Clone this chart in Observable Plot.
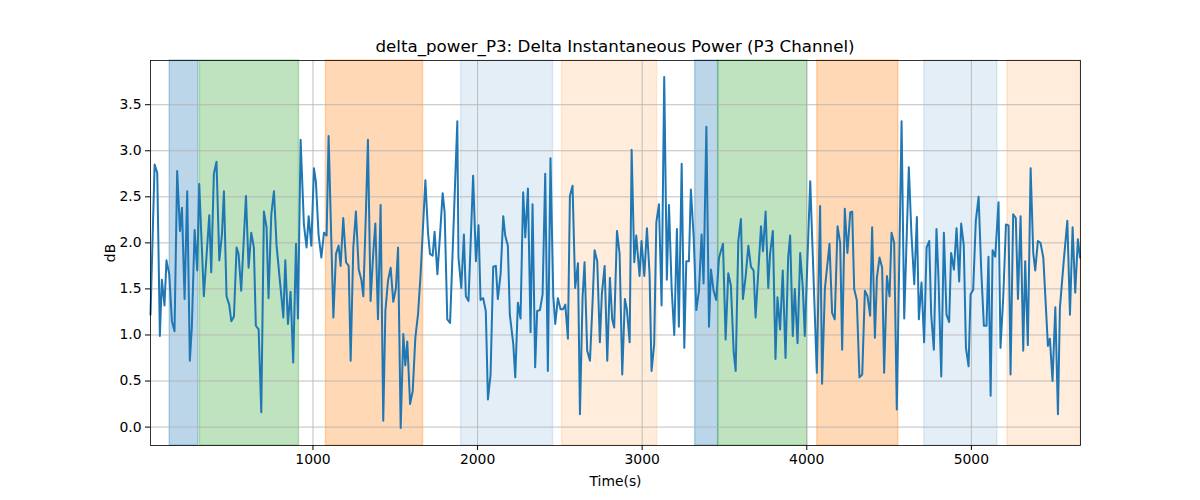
<!DOCTYPE html>
<html><head><meta charset="utf-8">
<script src="https://cdn.jsdelivr.net/npm/d3@7"></script>
<script src="https://cdn.jsdelivr.net/npm/@observablehq/plot@0.6"></script>
<style>body{margin:0;background:#fff;font-family:"DejaVu Sans",sans-serif}#wrap{position:relative;width:1200px;height:500px}
#title{position:absolute;top:36px;left:150px;width:930px;text-align:center;font-size:16.7px;color:#000}</style>
</head><body><div id="wrap"><div id="title">delta_power_P3: Delta Instantaneous Power (P3 Channel)</div></div>
<script>
const times = [13,38,54,70,82,98,110,127,143,159,175,192,204,220,236,252,264,281,297,309,337,370,382,398,414,431,447,459,475,491,504,520,536,548,564,593,609,625,641,653,670,686,702,718,730,747,763,779,799,820,832,848,864,880,897,909,925,945,961,974,990,1006,1018,1034,1051,1067,1083,1095,1111,1124,1140,1156,1168,1184,1201,1217,1229,1245,1261,1278,1294,1306,1322,1334,1350,1367,1379,1395,1411,1427,1440,1456,1472,1488,1504,1517,1533,1549,1561,1573,1590,1606,1622,1638,1654,1683,1699,1711,1727,1739,1756,1772,1788,1800,1816,1833,1877,1884,1901,1917,1929,1945,1973,1990,2006,2018,2034,2050,2063,2079,2095,2111,2123,2140,2156,2168,2184,2196,2217,2229,2245,2261,2277,2290,2306,2322,2334,2350,2362,2379,2395,2411,2427,2443,2460,2472,2488,2504,2520,2533,2549,2561,2577,2593,2610,2622,2638,2650,2666,2683,2699,2711,2727,2743,2755,2772,2788,2804,2818,2830,2847,2863,2879,2895,2907,2924,2936,2952,2964,2984,2996,3013,3029,3045,3057,3073,3086,3102,3118,3134,3150,3163,3179,3195,3211,3223,3240,3256,3268,3284,3296,3313,3329,3345,3361,3373,3390,3406,3418,3434,3450,3467,3491,3507,3523,3539,3556,3568,3584,3600,3612,3629,3645,3661,3677,3689,3722,3734,3750,3766,3777,3794,3810,3822,3838,3854,3871,3887,3899,3915,3927,3944,3960,3976,3988,4021,4061,4081,4093,4110,4138,4154,4170,4187,4203,4215,4231,4247,4264,4276,4288,4304,4320,4337,4353,4369,4385,4397,4414,4426,4442,4458,4470,4487,4503,4515,4531,4547,4576,4592,4620,4636,4653,4669,4681,4697,4713,4728,4744,4756,4772,4788,4800,4817,4833,4849,4865,4877,4894,4910,4926,4938,4954,4967,4983,4995,5011,5027,5044,5060,5076,5092,5104,5117,5129,5145,5165,5177,5194,5210,5226,5238,5254,5270,5283,5299,5315,5327,5343,5360,5376,5388,5404,5420,5437,5465,5477,5493,5510,5526,5538,5562,5583,5599,5615,5631,5647,5660];
const power = [1.22,2.85,2.76,0.99,1.6,1.32,1.81,1.66,1.15,1.04,2.78,2.13,2.38,1.39,2.56,0.72,1.08,2.14,1.7,2.64,1.42,2.3,1.68,2.75,2.88,1.81,2.09,2.56,1.42,1.33,1.15,1.2,1.95,1.88,1.48,2.51,1.73,2.11,1.95,1.1,1.06,0.16,2.34,2.17,1.4,2.31,2.56,1.97,1.59,1.19,1.81,1.12,1.47,0.7,1.99,1.18,3.12,2.2,1.95,2.29,1.97,2.81,2.66,2.09,1.84,2.11,2.08,3.16,2.06,1.19,1.88,1.97,1.75,2.27,1.79,1.75,0.72,1.95,2.34,1.71,1.6,1.42,2.35,3.12,1.37,1.91,2.21,1.17,2.41,0.07,1.26,1.59,1.73,1.36,1.51,1.95,-0.01,1.01,0.67,0.93,0.25,0.39,0.97,1.22,1.66,2.68,2.11,1.88,1.86,2.12,1.66,2.09,2.54,2.33,1.17,1.13,3.32,1.84,1.51,2.09,1.42,1.37,2.73,1.8,2.19,1.38,1.4,1.26,0.3,0.57,1.74,1.75,1.39,1.66,2.29,2.08,1.97,1.22,0.9,0.54,1.35,1.18,2.55,2.06,2.59,1.03,2.42,0.65,1.26,1.27,1.44,2.75,0.61,2.92,1.42,1.12,1.4,1.28,1.28,1.33,0.96,2.51,2.62,1.51,1.78,0.14,1.41,1.79,0.83,0.72,1.37,1.92,1.8,0.92,1.44,1.75,0.72,1.62,1.17,1.08,2.13,1.88,0.57,1.39,1.28,0.92,3.01,1.79,2.08,1.64,2.02,1.64,2.16,1.66,0.61,0.9,2.22,2.42,1.32,3.8,1.6,2.41,1.51,1.0,2.15,1.09,2.86,0.86,1.8,1.8,2.58,2.06,1.27,1.48,2.09,1.56,3.26,1.09,1.71,1.48,1.38,1.84,1.99,0.95,1.67,1.54,0.81,0.61,2.02,2.26,1.39,1.64,1.97,1.74,1.7,1.19,2.18,1.91,2.34,1.51,1.88,2.13,0.74,1.41,1.06,1.7,0.75,1.84,2.08,0.99,1.5,0.91,1.89,1.51,0.99,2.67,0.59,2.4,0.47,1.5,1.99,1.24,1.17,2.18,2.0,0.84,2.37,1.89,2.33,2.34,1.5,1.38,0.54,0.57,1.48,1.42,1.21,2.17,0.97,1.62,1.84,1.73,0.59,1.64,1.42,2.11,2.0,0.19,3.32,1.18,2.82,2.09,1.55,2.28,1.17,1.57,0.92,1.95,2.02,1.22,0.84,2.15,1.63,0.55,2.11,1.22,1.14,1.89,1.71,2.16,1.58,2.21,1.97,0.86,0.66,1.44,1.49,2.24,2.5,1.7,1.1,1.1,1.85,0.34,1.92,1.85,2.44,0.86,1.42,2.2,2.19,0.57,2.31,2.27,1.39,2.29,0.83,1.8,0.89,2.81,1.89,1.7,2.02,2.0,1.84,0.88,0.96,0.5,1.3,0.14,1.3,1.82,2.24,1.22,2.17,1.46,2.04,1.84];
const spanStart = [130,313,1079,1900,2513,3322,3462,4064,4714,5219];
const spanEnd   = [304,915,1669,2459,3091,3462,4003,4556,5158,5663];
const spanColor = ["#1f77b4","#2ca02c","#ff7f0e","#1f77b4","#ff7f0e","#1f77b4","#2ca02c","#ff7f0e","#1f77b4","#ff7f0e"];
const spanAlpha = [0.3,0.3,0.3,0.12,0.15,0.3,0.3,0.3,0.12,0.15];
const xTicks = [1000,2000,3000,4000,5000];
const yTicks = [0,0.5,1,1.5,2,2.5,3,3.5];

const series = times.map((t,i)=>({t, v: power[i]}));
const spans = spanStart.map((s,i)=>({x1:s,x2:spanEnd[i],c:spanColor[i],a:spanAlpha[i]}));

const chart = Plot.plot({
  width:1200, height:500,
  marginLeft:150, marginRight:120, marginTop:60, marginBottom:55,
  style:{fontFamily:"DejaVu Sans", fontSize:"13.9px", color:"#000", background:"#fff"},
  x:{domain:[13,5663], ticks:xTicks, tickFormat:d=>String(d), label:"Time(s)", labelAnchor:"center", labelOffset:45, tickSize:5},
  y:{domain:[-0.2,3.98], ticks:yTicks, tickFormat:d3.format(".1f"), label:"dB", labelAnchor:"center", labelOffset:45, tickSize:5},
  marks:[
    Plot.rectY(spans,{x1:"x1",x2:"x2",y1:-0.2,y2:3.98,fill:"c",fillOpacity:"a",stroke:"c",strokeOpacity:"a",strokeWidth:1.5}),
    Plot.gridX(xTicks,{stroke:"#b0b0b0",strokeOpacity:1,strokeWidth:0.8}),
    Plot.gridY(yTicks,{stroke:"#b0b0b0",strokeOpacity:1,strokeWidth:0.8}),
    Plot.line(series,{x:"t",y:"v",stroke:"#1f77b4",strokeWidth:2}),
    Plot.frame({stroke:"#000",strokeWidth:0.8}),
    Plot.axisX({ticks:xTicks,tickFormat:d=>String(d),label:"Time(s)",labelAnchor:"center",labelArrow:false,labelOffset:40,tickSize:5}),
    Plot.axisY({ticks:yTicks,tickFormat:d3.format(".1f"),label:"dB",labelAnchor:"center",labelArrow:false,labelOffset:45,tickSize:5})
  ]
});
document.getElementById("wrap").appendChild(chart);
</script></body></html>
